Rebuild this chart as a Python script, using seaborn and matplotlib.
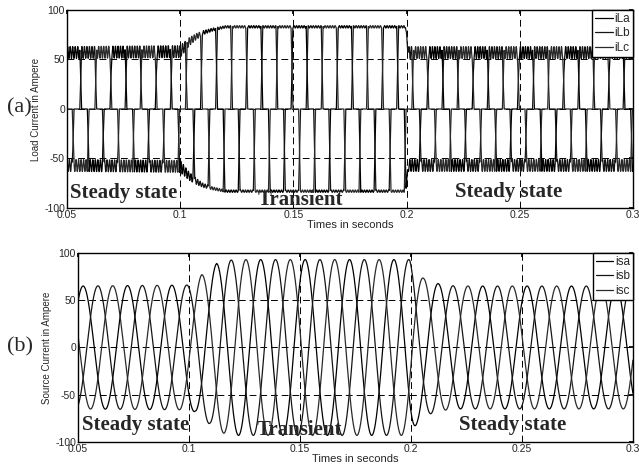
import numpy as np
import pandas as pd
import matplotlib
matplotlib.use("Agg")
import matplotlib.pyplot as plt
import seaborn as sns

# --- valori ---
F_GRID = 50.0           # Hz, un picco ogni 1/300 s tra le tre fasi
T_PEAK_A = 0.0523       # primo picco positivo della fase a (s)
FS = 40000              # campionamento delle tracce
T_START, T_END = 0.05, 0.30

LOAD_NAMES = ["iLa", "iLb", "iLc"]
SRC_NAMES = ["isa", "isb", "isc"]
SHIFT_DEG = [0, 120, 240]
LINE_COLORS = ["#000000", "#151515", "#2a2a2a"]

# corrente di carico: livello del blocco e ampiezza del ripple (A)
LOAD_T = [0.050, 0.100, 0.102, 0.104, 0.107, 0.110, 0.114, 0.120, 0.1995, 0.2008, 0.300]
LOAD_LEVEL = [57, 58, 63, 68, 73, 77, 80, 83, 83, 57, 57]
LOAD_RIPPLE = [6, 6, 5, 4, 3, 2, 1.5, 1.2, 1.2, 6, 6]
RIPPLE_HZ = 900
OVERLAP_DEG = 14

# corrente di sorgente: ampiezza dei picchi (A)
SRC_T = [0.050, 0.0990, 0.1027, 0.1057, 0.1095, 0.1125, 0.1162, 0.1200, 0.1995,
         0.2030, 0.2057, 0.2090, 0.2130, 0.2200, 0.300]
SRC_PEAK = [65, 66, 68, 77, 81, 89, 91, 93, 93, 79, 73, 70, 67, 65, 65]

X_TICKS = [0.05, 0.1, 0.15, 0.2, 0.25, 0.3]
X_TICK_LABELS = ["0.05", "0.1", "0.15", "0.2", "0.25", "0.3"]
Y_TICKS = [-100, -50, 0, 50, 100]


def angle_deg(t, shift):
    return (360 * F_GRID * (t - T_PEAK_A) + 90 - shift) % 360


def block(x):
    ov = OVERLAP_DEG
    y = np.zeros_like(x)
    for start, sign in [(30, 1), (210, -1)]:
        y = np.where((x >= start) & (x < start + ov), sign * (x - start) / ov, y)
        y = np.where((x >= start + ov) & (x < start + 120), sign, y)
        y = np.where((x >= start + 120) & (x < start + 120 + ov),
                     sign * (1 - (x - start - 120) / ov), y)
    return y


t = np.arange(T_START, T_END, 1 / FS)
level = np.interp(t, LOAD_T, LOAD_LEVEL)
ripple = np.interp(t, LOAD_T, LOAD_RIPPLE)
peak = np.interp(t, SRC_T, SRC_PEAK)

rows_load = []
rows_src = []
for name_l, name_s, sh in zip(LOAD_NAMES, SRC_NAMES, SHIFT_DEG):
    x = angle_deg(t, sh)
    b = block(x)
    i_load = level * b + ripple * np.sin(2 * np.pi * RIPPLE_HZ * t + np.radians(sh)) * np.abs(b)
    i_src = peak * np.sin(np.radians(x))
    rows_load.append(pd.DataFrame({"t": t, "i": i_load, "fase": name_l}))
    rows_src.append(pd.DataFrame({"t": t, "i": i_src, "fase": name_s}))
df_load = pd.concat(rows_load, ignore_index=True)
df_src = pd.concat(rows_src, ignore_index=True)

sns.set_theme(style="white")
plt.rcParams["font.family"] = ["Liberation Sans", "DejaVu Sans"]
plt.rcParams["axes.unicode_minus"] = False

fig = plt.figure(figsize=(6.39, 4.65), dpi=100)
ax1 = fig.add_axes([0.1049, 0.5527, 0.8857, 0.4258])
ax2 = fig.add_axes([0.1221, 0.0495, 0.8685, 0.4065])


def style_axis(ax, df, ylabel, texts):
    sns.lineplot(data=df, x="t", y="i", hue="fase", palette=LINE_COLORS,
                 estimator=None, sort=False, lw=0.9, ax=ax)
    ax.set_xlim(T_START, T_END)
    ax.set_ylim(-100, 100)
    ax.set_xticks(X_TICKS)
    ax.set_xticklabels(X_TICK_LABELS)
    ax.set_yticks(Y_TICKS)
    ax.tick_params(direction="in", length=3, labelsize=7.5, pad=1.5,
                   top=True, right=True, color="black")
    ax.grid(True, color="black", lw=0.7, ls=(0, (7, 4)))
    for sp in ax.spines.values():
        sp.set_color("black")
        sp.set_linewidth(1.0)
    ax.set_xlabel("Times in seconds", fontsize=8, labelpad=0)
    ax.set_ylabel(ylabel, fontsize=7, labelpad=2)
    h, l = ax.get_legend_handles_labels()
    ax.legend(h, l, loc="upper right", bbox_to_anchor=(1, 1), borderaxespad=0,
              fontsize=8.5, frameon=True, fancybox=False, edgecolor="black",
              framealpha=1, handlelength=1.5, handletextpad=0.15,
              labelspacing=0.2, borderpad=0.25)
    ax.get_legend().get_frame().set_linewidth(1.0)
    for tx, ty, s in texts:
        ax.text(tx, ty, s, ha="center", va="center", fontsize=15,
                fontweight="bold", family=["Liberation Serif", "DejaVu Serif"])


style_axis(ax1, df_load, "Load Current in Ampere",
           [(0.0748, -85, "Steady state"), (0.1529, -92, "Transient"),
            (0.2452, -84, "Steady state")])
style_axis(ax2, df_src, "Source Current in Ampere",
           [(0.0761, -82, "Steady state"), (0.1495, -87, "Transient"),
            (0.2457, -82, "Steady state")])

fig.text(19 / 639, 1 - 108 / 465, "(a)", fontsize=16, ha="center", va="center",
         family=["Liberation Serif", "DejaVu Serif"])
fig.text(20 / 639, 1 - 347 / 465, "(b)", fontsize=16, ha="center", va="center",
         family=["Liberation Serif", "DejaVu Serif"])

fig.savefig("out.png", dpi=100)
